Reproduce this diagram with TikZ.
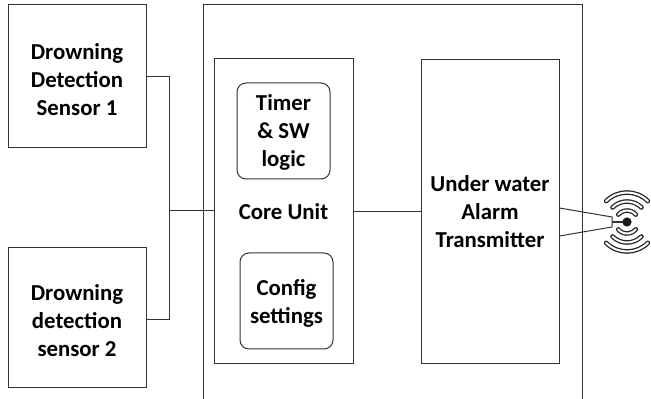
\documentclass[tikz,border=0pt]{standalone}
\usepackage{fontspec}
\setmainfont{Carlito}
\usetikzlibrary{calc}
\begin{document}
\begin{tikzpicture}[x=1pt,y=1pt,
  ln/.style={line width=1pt,draw=black!80},
  txt/.style={inner sep=0pt,align=center,
    font=\fontsize{22.8}{28}\selectfont\bfseries},
  blk/.style={ln,rectangle,inner sep=0pt,align=center,
    font=\fontsize{22.8}{28}\selectfont\bfseries},
  rblk/.style={blk,rounded corners=9pt},
  wave/.style={line width=4.6pt,black!85,line cap=round},
  wavein/.style={line width=2.0pt,white,line cap=round}]
\useasboundingbox (0,0) rectangle (651,399);
% outer enclosure
\coordinate (obl) at (203,0);
\coordinate (obr) at (582,0);
\draw[ln] (obl) |- (582,394) -- (obr);
% sensors
\node[blk,draw,minimum width=138pt,minimum height=143pt] (s1) at (77,322.5) {};
\node[txt] (s1t) at ([yshift=-3.5pt]s1.center) {Drowning\\Detection\\Sensor 1};
\node[blk,draw,minimum width=138pt,minimum height=140pt] (s2) at (77,81) {};
\node[txt] (s2t) at ([yshift=-3pt]s2.center) {Drowning\\detection\\sensor 2};
% core unit
\node[blk,draw,minimum width=139pt,minimum height=305pt] (core) at (283.5,187.5) {Core Unit};
\node[rblk,draw,minimum width=93pt,minimum height=96pt] (timer) at (283.5,268) {};
\node[txt] (timert) at ([yshift=-1.5pt]timer.center) {Timer\\\& SW\\logic};
\node[rblk,draw,minimum width=93pt,minimum height=96pt] (cfg) at (286.5,98) {};
\node[txt] (cfgt) at ([yshift=-2pt]cfg.center) {Config\\settings};
% transmitter
\node[blk,draw,minimum width=138pt,minimum height=304pt] (tx) at (490,187) {Under water\\Alarm\\Transmitter};
% connectors
\coordinate (j) at (169,188);
\draw[ln] (s1.east) -| (j);
\draw[ln] (s2.east |- 0,79) -| (j);
\draw[ln] (j) -- (core.west |- j);
\draw[ln] (core.east) -- (tx.west |- core.east);
% antenna
\coordinate (ant) at (627,177);
\draw[ln] (tx.east |- 0,191) -- (612,182) -- (612,172) -- (tx.east |- 0,163);
\draw[ln,line width=1.5pt] (612,177) -- (ant);
\fill[black!90] (ant) circle (4.6pt);
\foreach \r/\a in {11.5/40,20.5/45,29.5/45}{
  \draw[wave] ($(ant)+(\a:\r)$) arc[start angle=\a,end angle=180-\a,radius=\r];
  \draw[wavein] ($(ant)+(\a:\r)$) arc[start angle=\a,end angle=180-\a,radius=\r];
  \draw[wave] ($(ant)+(180+\a:\r)$) arc[start angle=180+\a,end angle=360-\a,radius=\r];
  \draw[wavein] ($(ant)+(180+\a:\r)$) arc[start angle=180+\a,end angle=360-\a,radius=\r];
}
\end{tikzpicture}
\end{document}
